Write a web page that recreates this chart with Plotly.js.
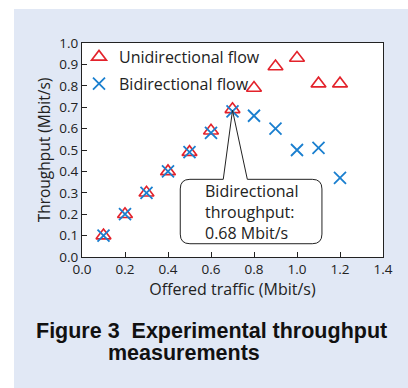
<!DOCTYPE html>
<html>
<head>
<meta charset="utf-8">
<script src="https://cdn.plot.ly/plotly-3.0.1.min.js"></script>
<style>html,body{margin:0;padding:0;background:#fff;}#chart{width:408px;height:388px;}</style>
</head>
<body>
<div id="chart"></div>
<script>
const offered = [0.1, 0.2, 0.3, 0.4, 0.5, 0.6, 0.7, 0.8, 0.9, 1.0, 1.1, 1.2];
const unidirectional = [0.10, 0.20, 0.30, 0.40, 0.49, 0.59, 0.69, 0.79, 0.89, 0.93, 0.81, 0.81];
const bidirectional = [0.10, 0.20, 0.30, 0.40, 0.49, 0.58, 0.68, 0.66, 0.60, 0.50, 0.51, 0.37];
const xTicks = [0, 0.2, 0.4, 0.6, 0.8, 1.0, 1.2, 1.4];
const yTicks = [0, 0.1, 0.2, 0.3, 0.4, 0.5, 0.6, 0.7, 0.8, 0.9, 1.0];
const calloutX = 0.7, calloutY = 0.68;
const calloutText = 'Bidirectional<br>throughput:<br>0.68 Mbit/s';

const font = 'Open Sans, Noto Sans, DejaVu Sans, sans-serif';
const traces = [
  {x: offered, y: unidirectional, mode: 'markers', type: 'scatter', name: 'Unidirectional flow', legendgroup: 'a',
   marker: {symbol: 'triangle-up-open', size: 13, color: '#e3222b', line: {width: 1.6}}},
  {x: offered, y: bidirectional, mode: 'markers', type: 'scatter', name: 'Bidirectional flow', legendgroup: 'b',
   marker: {symbol: 'x-thin-open', size: 12, color: '#1a7fcf', line: {width: 1.8, color: '#1a7fcf'}}}
];

// callout path (box + pointer) in data units
const bx0 = 0.457, bx1 = 1.116, by0 = 0.062, by1 = 0.363, r = 0.045;
const p0 = 0.657, p1 = 0.769;
const path = `M ${p0},${by1} L ${calloutX},${calloutY + 0.005} L ${p1},${by1} L ${bx1 - r},${by1} Q ${bx1},${by1} ${bx1},${by1 - r} ` +
  `L ${bx1},${by0 + r} Q ${bx1},${by0} ${bx1 - r},${by0} L ${bx0 + r},${by0} Q ${bx0},${by0} ${bx0},${by0 + r} ` +
  `L ${bx0},${by1 - r} Q ${bx0},${by1} ${bx0 + r},${by1} Z`;

const layout = {
  width: 408, height: 388,
  margin: {l: 82, r: 25, t: 43, b: 131},
  paper_bgcolor: '#ffffff',
  plot_bgcolor: 'rgba(0,0,0,0)',
  font: {family: font, color: '#222', size: 13.5},
  showlegend: true,
  legend: {x: -3 / 301, y: 1 + 3 / 214, xanchor: 'left', yanchor: 'top', bgcolor: 'rgba(0,0,0,0)',
    traceorder: 'grouped', tracegroupgap: 3,
    font: {size: 16, family: font, color: '#222'}, itemwidth: 30},
  xaxis: {range: [0, 1.4], tickvals: xTicks, ticktext: xTicks.map(v => v.toFixed(1)),
    ticks: 'inside', ticklen: 5, tickcolor: '#222', showline: true, linecolor: '#222', linewidth: 1,
    mirror: true, showgrid: false, zeroline: false,
    title: {text: 'Offered traffic (Mbit/s)', font: {size: 16, family: font, color: '#222'}, standoff: 2},
    tickfont: {size: 13.5}},
  yaxis: {range: [0, 1.0], tickvals: yTicks, ticktext: yTicks.map(v => v.toFixed(1)),
    ticks: 'inside', ticklen: 5, tickcolor: '#222', showline: true, linecolor: '#222', linewidth: 1,
    mirror: true, showgrid: false, zeroline: false,
    title: {text: 'Throughput (Mbit/s)', font: {size: 15.5, family: font, color: '#222'}, standoff: 4},
    tickfont: {size: 13.5}},
  shapes: [
    {type: 'rect', xref: 'paper', yref: 'paper', layer: 'below',
     x0: (14 - 82) / 301, x1: (410 - 82) / 301, y0: (257 - 390) / 214, y1: (257 - 9) / 214,
     fillcolor: '#e1e8f5', line: {width: 0}},
    {type: 'rect', xref: 'paper', yref: 'paper', layer: 'below',
     x0: 0, x1: 1, y0: 0, y1: 1, fillcolor: '#ffffff', line: {width: 0}},
    {type: 'path', xref: 'x', yref: 'y', path: path, layer: 'above',
     fillcolor: '#ffffff', line: {color: '#222', width: 1}}
  ],
  annotations: [
    {xref: 'x', yref: 'y', x: 0.565, y: 0.21, xanchor: 'left', yanchor: 'middle', align: 'left',
     text: calloutText, showarrow: false, font: {size: 16, family: font, color: '#222'}},
    {xref: 'paper', yref: 'paper', x: (211 - 82) / 301, y: (257 - 331) / 214, xanchor: 'center', yanchor: 'middle',
     text: '<b>Figure 3  Experimental throughput</b>', showarrow: false,
     font: {size: 21.5, family: 'Liberation Sans, Arial, sans-serif', color: '#111'}},
    {xref: 'paper', yref: 'paper', x: (184 - 82) / 301, y: (257 - 353) / 214, xanchor: 'center', yanchor: 'middle',
     text: '<b>measurements</b>', showarrow: false,
     font: {size: 21.5, family: 'Liberation Sans, Arial, sans-serif', color: '#111'}}
  ]
};

Plotly.newPlot('chart', traces, layout, {displayModeBar: false, staticPlot: true});
</script>
</body>
</html>
